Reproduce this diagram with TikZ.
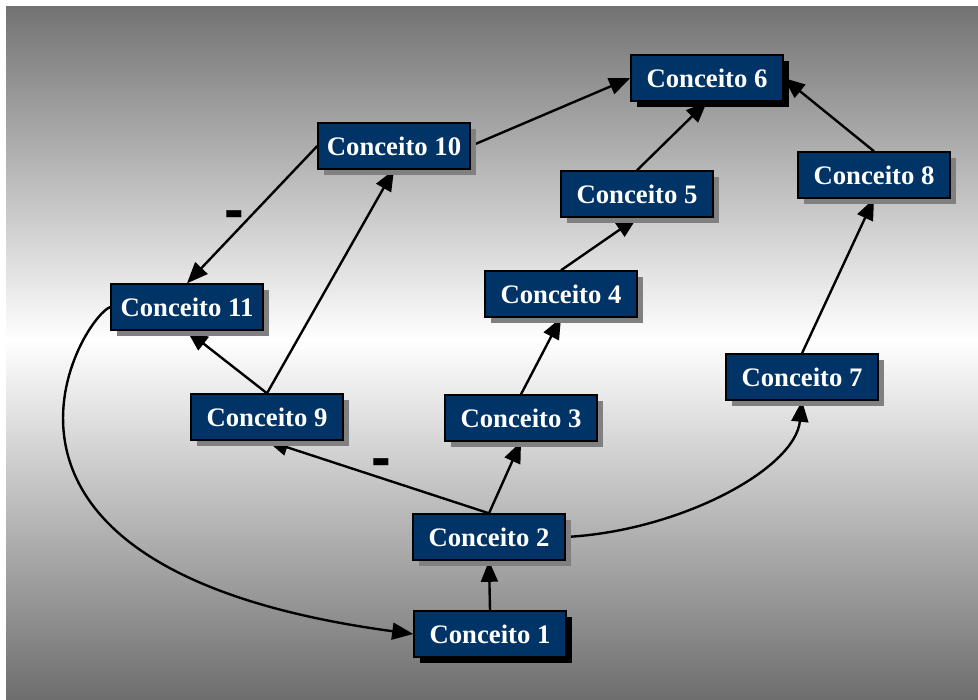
\documentclass[tikz,border=0pt]{standalone}
\usepackage{fontspec}
\setmainfont{Liberation Serif}
\newfontfamily\sinalfont{Liberation Sans}
\usetikzlibrary{arrows.meta,shadows,backgrounds}

\definecolor{azulconceito}{HTML}{003366}
\definecolor{cinzatopo}{HTML}{737373}
\definecolor{cinzabase}{HTML}{6E6E6E}

\tikzset{
  caixa/.style={draw=black, line width=1pt, fill=azulconceito, text=white,
    minimum width=3.8cm, minimum height=1.15cm, inner sep=0pt,
    font=\fontsize{19}{22}\selectfont\bfseries},
  conceito/.style={caixa, drop shadow={shadow xshift=0.14cm, shadow yshift=-0.14cm, fill=black!50, opacity=1}},
  conceitopreto/.style={caixa, drop shadow={shadow xshift=0.14cm, shadow yshift=-0.14cm, fill=black, opacity=1}},
  seta/.style={-{Triangle[length=15pt,width=12pt]}, line width=1.7pt},
  sinal/.style={font=\sinalfont\fontsize{42}{42}\selectfont\bfseries, inner sep=0pt}
}

\begin{document}
\begin{tikzpicture}[x=0.025cm, y=0.025cm]
  \useasboundingbox (0,0) rectangle (978,699);

  % Conceitos
  \node[conceitopreto] (c1) at (490,65) {Conceito 1};
  \node[conceitopreto] (c6) at (707,621) {Conceito 6};
  \foreach \num/\x/\y in {2/489/162, 3/521/281, 4/561/405, 5/637/505, 7/802/322,
                          8/874/524, 9/267/282, 10/394/553, 11/187/392} {
    \node[conceito] (c\num) at (\x,\y) {Conceito \num};
  }

  \begin{scope}[on background layer]
    % Fundo
    \fill[white] (0,0) rectangle (978,699);
    \shade[top color=cinzatopo, bottom color=white] (6,359) rectangle (978,692);
    \shade[top color=white, bottom color=cinzabase] (6,0) rectangle (978,359);

    % Ligacoes
    \draw[seta] (c1.north) -- (c2.south);
    \draw[seta] (c2.north) -- (c3.south);
    \draw[seta] (c2.north) -- (c9.south)
      node[sinal, pos=0.486, yshift=0.26cm] (menos1) {-};
    \draw[seta] (c2.east) .. controls (680,168) and (795,230) .. (c7.south);
    \draw[seta] (c3.north) -- (c4.south);
    \draw[seta] (c4.north) -- (c5.south);
    \draw[seta] (c5.north) -- (c6.south);
    \draw[seta] (c7.north) -- (c8.south);
    \draw[seta] (c8.north) -- (c6.east);
    \draw[seta] (c9.north) -- (c11.south);
    \draw[seta] (c9.north) -- (c10.south);
    \draw[seta] (c10.west) -- (c11.north)
      node[sinal, pos=0.536, xshift=-0.34cm] (menos2) {-};
    \draw[seta] (c10.east) -- (c6.west);
    \draw[seta] (c11.west) .. controls (80,380) and (-70,130) .. (c1.west);
  \end{scope}
\end{tikzpicture}
\end{document}
